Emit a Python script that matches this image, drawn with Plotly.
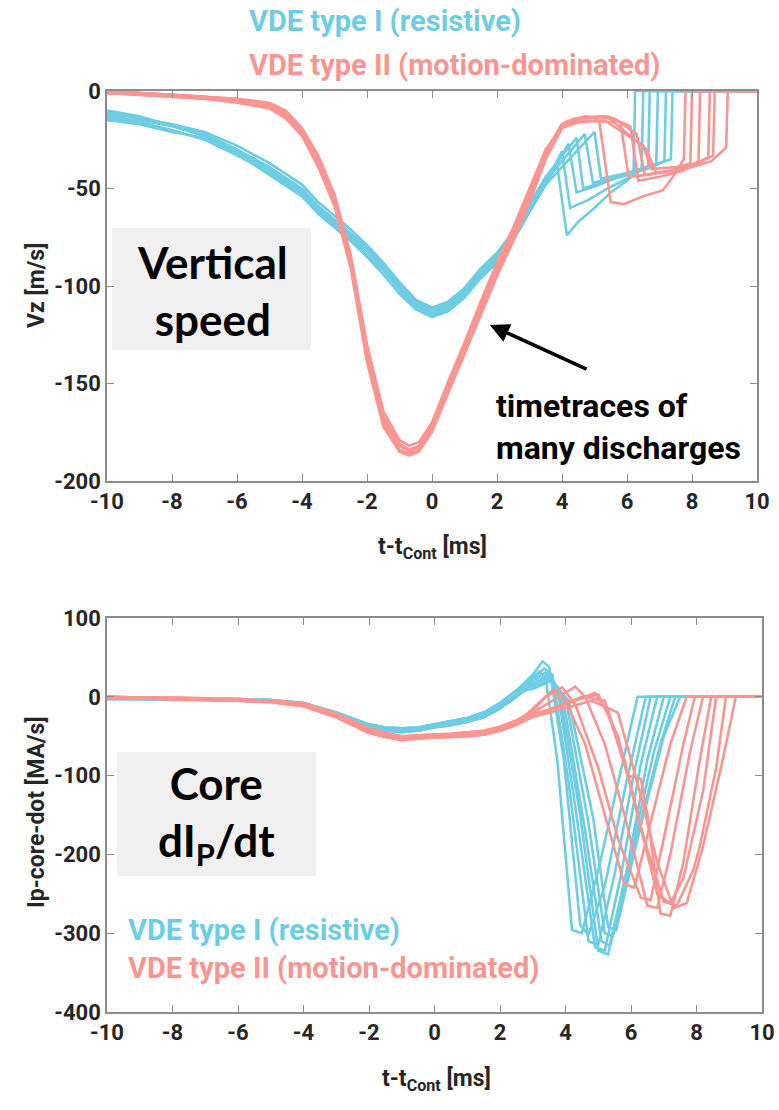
import plotly.graph_objects as go

CYAN = "#6ecde3"
SALMON = "#fa9592"

# ---------------- top panel: vertical speed Vz [m/s] ----------------
VZ_C_HEAD_X = [-10, -9, -8, -7, -6, -5, -4, -3.5, -3, -2.5, -2, -1.5, -1, -0.5, 0, 0.5, 1, 1.5, 2, 2.5, 3, 3.5]

vz_c1_head = [-11, -14, -17, -22, -30, -39, -50, -59, -66, -73, -80, -89, -99, -108, -112, -109, -102, -92, -84, -73, -59, -45]
vz_c2_head = [-13, -15, -18, -23, -31, -41, -52, -61, -68, -75, -82, -91, -101, -110, -114, -111, -104, -94, -86, -75, -61, -47]
vz_c3_head = [-14, -16, -20, -25, -33, -42, -53, -62, -69, -76, -84, -92, -102, -111, -115, -112, -105, -95, -87, -76, -62, -48]
vz_c4_head = [-12, -14, -17, -21, -28, -37, -48, -57, -64, -71, -79, -88, -98, -107, -111, -108, -101, -91, -83, -72, -58, -44]
vz_c5_head = [-10, -13, -18, -23, -31, -40, -51, -60, -67, -74, -81, -90, -100, -109, -113, -110, -103, -93, -85, -74, -60, -46]
vz_c6_head = [-15, -17, -21, -24, -32, -43, -54, -63, -70, -77, -85, -94, -104, -112, -116, -113, -106, -96, -88, -77, -62, -48]

vz_c1_tail_x = [3.85, 4.15, 4.5, 5.0, 5.5, 6.0, 6.2, 6.25, 10]
vz_c1_tail_y = [-38, -74, -67, -60, -52, -46, -43, 0, 0]
vz_c2_tail_x = [4.0, 4.25, 4.8, 5.4, 6.0, 6.45, 6.5, 10]
vz_c2_tail_y = [-31, -60, -56, -50, -45, -40, 0, 0]
vz_c3_tail_x = [4.2, 4.45, 5.0, 5.6, 6.2, 6.65, 6.7, 10]
vz_c3_tail_y = [-27, -52, -49, -45, -42, -39, 0, 0]
vz_c4_tail_x = [4.45, 4.65, 5.2, 6.0, 6.6, 6.9, 6.95, 10]
vz_c4_tail_y = [-24, -50, -47, -43, -40, -38, 0, 0]
vz_c5_tail_x = [4.7, 4.95, 5.5, 6.3, 6.9, 7.15, 7.2, 10]
vz_c5_tail_y = [-22, -47, -45, -41, -38, -36, 0, 0]
vz_c6_tail_x = [5.0, 5.2, 6.0, 6.8, 7.35, 7.4, 10]
vz_c6_tail_y = [-21, -45, -42, -38, -35, 0, 0]

VZ_S_HEAD_X = [-10, -9, -8, -7, -6, -5, -4.5, -4, -3.5, -3, -2.5, -2, -1.5, -1, -0.7, -0.4, 0, 0.5, 1, 1.5, 2, 2.5, 3, 3.5]

vz_s1_head = [0, -1, -2, -3, -4, -7, -11, -20, -35, -55, -86, -133, -167, -181, -184, -182, -171, -150, -130, -110, -90, -72, -52, -31]
vz_s2_head = [-1, -1, -2, -3, -5, -8, -13, -22, -37, -57, -89, -137, -170, -184, -186, -184, -174, -153, -134, -113, -93, -75, -55, -34]
vz_s3_head = [-1, -2, -3, -4, -5, -8, -12, -21, -36, -56, -88, -135, -168, -182, -185, -183, -172, -151, -132, -111, -91, -73, -53, -32]
vz_s4_head = [0, -1, -2, -3, -4, -6, -10, -19, -33, -53, -84, -130, -164, -179, -182, -180, -170, -149, -129, -108, -88, -70, -50, -30]
vz_s5_head = [-1, -2, -3, -4, -6, -9, -14, -23, -39, -59, -91, -139, -172, -185, -187, -185, -175, -155, -136, -115, -95, -77, -57, -35]
vz_s6_head = [-1, -1, -2, -3, -5, -7, -12, -21, -36, -56, -87, -134, -167, -181, -184, -182, -172, -152, -133, -112, -92, -74, -54, -33]

vz_s1_tail_x = [4.0, 4.4, 5.0, 5.15, 5.5, 5.9, 6.5, 7.1, 7.5, 7.75, 7.8, 10]
vz_s1_tail_y = [-17, -14, -14, -16, -57, -58, -54, -51, -42, -35, 0, 0]
vz_s2_tail_x = [4.0, 4.5, 5.2, 5.8, 6.05, 6.6, 7.3, 7.95, 8.0, 10]
vz_s2_tail_y = [-18, -14, -13, -16, -44, -43, -41, -37, 0, 0]
vz_s3_tail_x = [4.0, 4.6, 5.4, 6.1, 6.35, 7.0, 7.7, 8.2, 8.25, 10]
vz_s3_tail_y = [-17, -14, -13, -18, -46, -44, -41, -36, 0, 0]
vz_s4_tail_x = [4.1, 4.7, 5.6, 6.3, 6.55, 7.3, 8.0, 8.5, 8.55, 10]
vz_s4_tail_y = [-16, -13, -14, -22, -43, -41, -38, -34, 0, 0]
vz_s5_tail_x = [4.0, 4.5, 5.3, 6.5, 6.75, 7.5, 8.2, 8.65, 8.7, 10]
vz_s5_tail_y = [-19, -16, -15, -28, -40, -39, -37, -33, 0, 0]
vz_s6_tail_x = [4.0, 4.6, 5.6, 6.6, 6.9, 7.8, 8.6, 9.05, 9.1, 10]
vz_s6_tail_y = [-18, -15, -16, -30, -42, -40, -36, -29, 0, 0]

# ---------------- bottom panel: Ip-core-dot [MA/s] ----------------
IP_HEAD_X = [-10, -9, -8, -7, -6, -5, -4, -3, -2, -1.5, -1, -0.5, 0, 0.5, 1, 1.5, 2, 2.5]

ip_c_head_a = [-2, -2, -3, -3, -4, -5, -9, -22, -37, -40, -42, -41, -37, -34, -30, -24, -12, 3]
ip_c_head_b = [0, -1, -2, -3, -3, -4, -8, -20, -35, -39, -40, -39, -35, -31, -27, -20, -8, 8]
ip_c_head_c = [-3, -3, -4, -4, -5, -6, -11, -24, -39, -43, -45, -43, -39, -36, -32, -26, -15, 0]

ip_c1_tail_x = [3.0, 3.2, 3.4, 3.75, 4.2, 4.5, 5.0, 5.6, 6.2, 10]
ip_c1_tail_y = [25, 32, 22, -80, -296, -300, -220, -110, 0, 0]
ip_c2_tail_x = [3.0, 3.3, 3.5, 3.95, 4.45, 4.7, 5.2, 5.85, 6.45, 10]
ip_c2_tail_y = [28, 45, 38, -80, -290, -302, -240, -110, 0, 0]
ip_c3_tail_x = [3.0, 3.35, 3.6, 4.1, 4.7, 5.0, 5.5, 6.1, 6.6, 10]
ip_c3_tail_y = [22, 36, 28, -110, -310, -315, -225, -95, 0, 0]
ip_c4_tail_x = [3.0, 3.4, 3.75, 4.3, 4.9, 5.2, 5.7, 6.3, 6.8, 10]
ip_c4_tail_y = [20, 31, 12, -140, -318, -322, -225, -85, 0, 0]
ip_c5_tail_x = [3.0, 3.45, 3.8, 4.45, 5.0, 5.3, 5.85, 6.5, 7.0, 10]
ip_c5_tail_y = [16, 28, 10, -150, -322, -327, -225, -80, 0, 0]
ip_c6_tail_x = [3.0, 3.5, 3.9, 4.6, 5.1, 5.35, 5.95, 6.7, 7.2, 10]
ip_c6_tail_y = [15, 25, 4, -170, -310, -316, -205, -70, 0, 0]
ip_c7_tail_x = [3.0, 3.5, 4.0, 4.7, 5.2, 5.45, 6.1, 6.9, 7.35, 10]
ip_c7_tail_y = [12, 22, 0, -160, -300, -304, -190, -60, 0, 0]
ip_c8_tail_x = [3.0, 3.55, 4.1, 4.85, 5.3, 5.55, 6.2, 7.0, 7.5, 10]
ip_c8_tail_y = [10, 20, -5, -155, -292, -296, -180, -50, 0, 0]

ip_s_head_a = [-1, -2, -2, -3, -4, -6, -10, -24, -43, -48, -52, -51, -50, -49, -48, -46, -41, -34]
ip_s_head_b = [0, -1, -1, -2, -3, -5, -8, -21, -40, -46, -50, -49, -48, -47, -45, -43, -38, -30]
ip_s_head_c = [-2, -2, -3, -4, -5, -7, -12, -26, -46, -51, -55, -53, -52, -51, -50, -48, -43, -36]

ip_s1_tail_x = [3.0, 3.6, 4.0, 4.6, 5.2, 5.8, 6.1, 6.6, 7.2, 7.7, 10]
ip_s1_tail_y = [-15, 8, -5, -60, -150, -238, -242, -160, -60, 0, 0]
ip_s2_tail_x = [3.0, 3.4, 3.9, 4.3, 5.0, 5.6, 6.3, 6.6, 7.0, 7.6, 7.95, 10]
ip_s2_tail_y = [-18, 0, 12, -10, -90, -180, -255, -258, -180, -60, 0, 0]
ip_s3_tail_x = [3.0, 3.6, 4.3, 4.6, 5.2, 5.8, 6.5, 6.8, 7.2, 7.8, 8.2, 10]
ip_s3_tail_y = [-20, -5, 13, 0, -60, -150, -265, -268, -200, -70, 0, 0]
ip_s4_tail_x = [3.0, 4.0, 4.9, 5.3, 5.9, 6.3, 6.5, 6.9, 7.2, 7.6, 8.1, 8.45, 10]
ip_s4_tail_y = [-22, -10, 5, -20, -100, -104, -150, -275, -278, -210, -80, 0, 0]
ip_s5_tail_x = [3.0, 4.2, 5.0, 5.6, 6.2, 6.8, 7.2, 7.6, 8.2, 8.6, 10]
ip_s5_tail_y = [-24, -5, 3, -50, -150, -250, -262, -230, -120, 0, 0]
ip_s6_tail_x = [3.0, 4.5, 5.2, 5.8, 6.4, 7.0, 7.4, 7.9, 8.1, 8.6, 8.9, 10]
ip_s6_tail_y = [-25, 0, -5, -80, -180, -260, -265, -220, -190, -90, 0, 0]
ip_s7_tail_x = [3.0, 4.8, 5.6, 6.2, 6.8, 7.3, 7.7, 8.2, 8.8, 9.2, 10]
ip_s7_tail_y = [-26, -5, -20, -110, -210, -268, -262, -190, -80, 0, 0]

X_TICKS = [-10, -8, -6, -4, -2, 0, 2, 4, 6, 8, 10]
X_TICK_TEXT = ["-10", "-8", "-6", "-4", "-2", "0", "2", "4", "6", "8", "10"]
VZ_TICKS = [-200, -150, -100, -50, 0]
VZ_TICK_TEXT = ["-200", "-150", "-100", "-50", "0"]
IP_TICKS = [-400, -300, -200, -100, 0, 100]
IP_TICK_TEXT = ["-400", "-300", "-200", "-100", "0", "100"]

LEGEND_1 = "VDE type I (resistive)"
LEGEND_2 = "VDE type II (motion-dominated)"
X_TITLE = "t-t<sub>Cont</sub> [ms]"
VZ_TITLE = "Vz [m/s]"
IP_TITLE = "Ip-core-dot [MA/s]"

# ---------------- build figure ----------------
NARROW = "Roboto, Liberation Sans Narrow, sans-serif"
GOTHIC = "Lato, Noto Sans, sans-serif"
AXC = "#8c8c8c"
TXT = "#262626"

fig = go.Figure()

top_cyan = [
    (vz_c1_head, vz_c1_tail_x, vz_c1_tail_y),
    (vz_c2_head, vz_c2_tail_x, vz_c2_tail_y),
    (vz_c3_head, vz_c3_tail_x, vz_c3_tail_y),
    (vz_c4_head, vz_c4_tail_x, vz_c4_tail_y),
    (vz_c5_head, vz_c5_tail_x, vz_c5_tail_y),
    (vz_c6_head, vz_c6_tail_x, vz_c6_tail_y),
]
top_salmon = [
    (vz_s1_head, vz_s1_tail_x, vz_s1_tail_y),
    (vz_s2_head, vz_s2_tail_x, vz_s2_tail_y),
    (vz_s3_head, vz_s3_tail_x, vz_s3_tail_y),
    (vz_s4_head, vz_s4_tail_x, vz_s4_tail_y),
    (vz_s5_head, vz_s5_tail_x, vz_s5_tail_y),
    (vz_s6_head, vz_s6_tail_x, vz_s6_tail_y),
]
bot_cyan = [
    (ip_c_head_a, ip_c1_tail_x, ip_c1_tail_y),
    (ip_c_head_b, ip_c2_tail_x, ip_c2_tail_y),
    (ip_c_head_c, ip_c3_tail_x, ip_c3_tail_y),
    (ip_c_head_a, ip_c4_tail_x, ip_c4_tail_y),
    (ip_c_head_b, ip_c5_tail_x, ip_c5_tail_y),
    (ip_c_head_c, ip_c6_tail_x, ip_c6_tail_y),
    (ip_c_head_a, ip_c7_tail_x, ip_c7_tail_y),
    (ip_c_head_b, ip_c8_tail_x, ip_c8_tail_y),
]
bot_salmon = [
    (ip_s_head_a, ip_s1_tail_x, ip_s1_tail_y),
    (ip_s_head_b, ip_s2_tail_x, ip_s2_tail_y),
    (ip_s_head_c, ip_s3_tail_x, ip_s3_tail_y),
    (ip_s_head_a, ip_s4_tail_x, ip_s4_tail_y),
    (ip_s_head_b, ip_s5_tail_x, ip_s5_tail_y),
    (ip_s_head_c, ip_s6_tail_x, ip_s6_tail_y),
    (ip_s_head_a, ip_s7_tail_x, ip_s7_tail_y),
]


def add_group(group, head_x, color, xa, ya):
    for head_y, tx, ty in group:
        fig.add_trace(go.Scatter(
            x=list(head_x) + list(tx), y=list(head_y) + list(ty),
            mode="lines", line=dict(color=color, width=2.6),
            xaxis=xa, yaxis=ya, showlegend=False, hoverinfo="skip"))


add_group(top_cyan, VZ_C_HEAD_X, CYAN, "x", "y")
add_group(top_salmon, VZ_S_HEAD_X, SALMON, "x", "y")
add_group(bot_cyan, IP_HEAD_X, CYAN, "x2", "y2")
add_group(bot_salmon, IP_HEAD_X, SALMON, "x2", "y2")

W, H = 779, 1110


def px_x(p):
    return p / W


def px_y(p):
    return 1 - p / H


axis_common = dict(
    showline=True, linecolor=AXC, linewidth=1.5, mirror="ticks",
    ticks="inside", ticklen=7, tickwidth=1.3, tickcolor=AXC,
    showgrid=False, zeroline=False, automargin=False,
    tickfont=dict(family=NARROW, size=22, color=TXT, weight="bold"),
)

fig.update_layout(
    width=W, height=H, margin=dict(l=0, r=0, t=0, b=0, autoexpand=False),
    paper_bgcolor="white", plot_bgcolor="white",
    xaxis=dict(domain=[px_x(107), px_x(757)], range=[-10, 10], anchor="y",
               tickvals=X_TICKS, ticktext=X_TICK_TEXT, **axis_common),
    yaxis=dict(domain=[px_y(481), px_y(91)], range=[-200, 0], anchor="x",
               tickvals=VZ_TICKS, ticktext=VZ_TICK_TEXT, **axis_common),
    xaxis2=dict(domain=[px_x(107), px_x(762)], range=[-10, 10], anchor="y2",
                tickvals=X_TICKS, ticktext=X_TICK_TEXT, **axis_common),
    yaxis2=dict(domain=[px_y(1012), px_y(618)], range=[-400, 100], anchor="x2",
                tickvals=IP_TICKS, ticktext=IP_TICK_TEXT, **axis_common),
)

# gray label boxes
fig.add_shape(type="rect", xref="paper", yref="paper",
              x0=px_x(112), x1=px_x(311), y0=px_y(350), y1=px_y(228),
              fillcolor="#f0f0f0", line=dict(width=0), layer="below")
fig.add_shape(type="rect", xref="paper", yref="paper",
              x0=px_x(117), x1=px_x(316), y0=px_y(876), y1=px_y(752),
              fillcolor="#f0f0f0", line=dict(width=0), layer="below")

title_font = dict(family=NARROW, size=23, color=TXT, weight="bold")
ann = []
# axis titles
ann.append(dict(text=X_TITLE, xref="paper", yref="paper", x=px_x(432), y=px_y(548),
                xanchor="center", yanchor="middle", showarrow=False, font=title_font))
ann.append(dict(text=X_TITLE, xref="paper", yref="paper", x=px_x(436), y=px_y(1080),
                xanchor="center", yanchor="middle", showarrow=False, font=title_font))
ann.append(dict(text=VZ_TITLE, xref="paper", yref="paper", x=px_x(36), y=px_y(286),
                xanchor="center", yanchor="middle", textangle=-90, showarrow=False,
                font=title_font))
ann.append(dict(text=IP_TITLE, xref="paper", yref="paper", x=px_x(36), y=px_y(812),
                xanchor="center", yanchor="middle", textangle=-90, showarrow=False,
                font=title_font))
# boxed labels
ann.append(dict(text="Vertical<br>speed", xref="paper", yref="paper",
                x=px_x(212), y=px_y(290), xanchor="center", yanchor="middle",
                showarrow=False,
                font=dict(family=GOTHIC, size=44, color="black", weight="bold")))
ann.append(dict(text="Core<br>dI<sub>P</sub>/dt", xref="paper", yref="paper",
                x=px_x(216), y=px_y(815), xanchor="center", yanchor="middle",
                showarrow=False,
                font=dict(family=GOTHIC, size=44, color="black", weight="bold")))
# top legend-like texts
ann.append(dict(text=LEGEND_1, xref="paper", yref="paper",
                x=px_x(247), y=px_y(21), xanchor="left", yanchor="middle",
                showarrow=False,
                font=dict(family=NARROW, size=29, color=CYAN, weight="bold")))
ann.append(dict(text=LEGEND_2, xref="paper", yref="paper",
                x=px_x(247), y=px_y(65), xanchor="left", yanchor="middle",
                showarrow=False,
                font=dict(family=NARROW, size=29, color=SALMON, weight="bold")))
# bottom legend-like texts
ann.append(dict(text=LEGEND_1, xref="paper", yref="paper",
                x=px_x(126), y=px_y(930), xanchor="left", yanchor="middle",
                showarrow=False,
                font=dict(family=NARROW, size=29, color=CYAN, weight="bold")))
ann.append(dict(text=LEGEND_2, xref="paper", yref="paper",
                x=px_x(126), y=px_y(968), xanchor="left", yanchor="middle",
                showarrow=False,
                font=dict(family=NARROW, size=29, color=SALMON, weight="bold")))
# timetraces text
ann.append(dict(text="timetraces of<br>many discharges", xref="paper", yref="paper",
                x=px_x(494), y=px_y(427), xanchor="left", yanchor="middle",
                align="left", showarrow=False,
                font=dict(family=NARROW, size=32, color="black", weight="bold")))
# arrow
ann.append(dict(text="", x=1.78, y=-120, xref="x", yref="y",
                ax=4.8, ay=-143, axref="x", ayref="y",
                showarrow=True, arrowhead=2, arrowsize=1.1, arrowwidth=3.5,
                arrowcolor="black"))

fig.update_layout(annotations=ann)
fig.write_html(
    "out.html",
    config={"displayModeBar": False},
    post_script="document.body.style.margin='0';document.body.style.overflow='hidden';",
)
